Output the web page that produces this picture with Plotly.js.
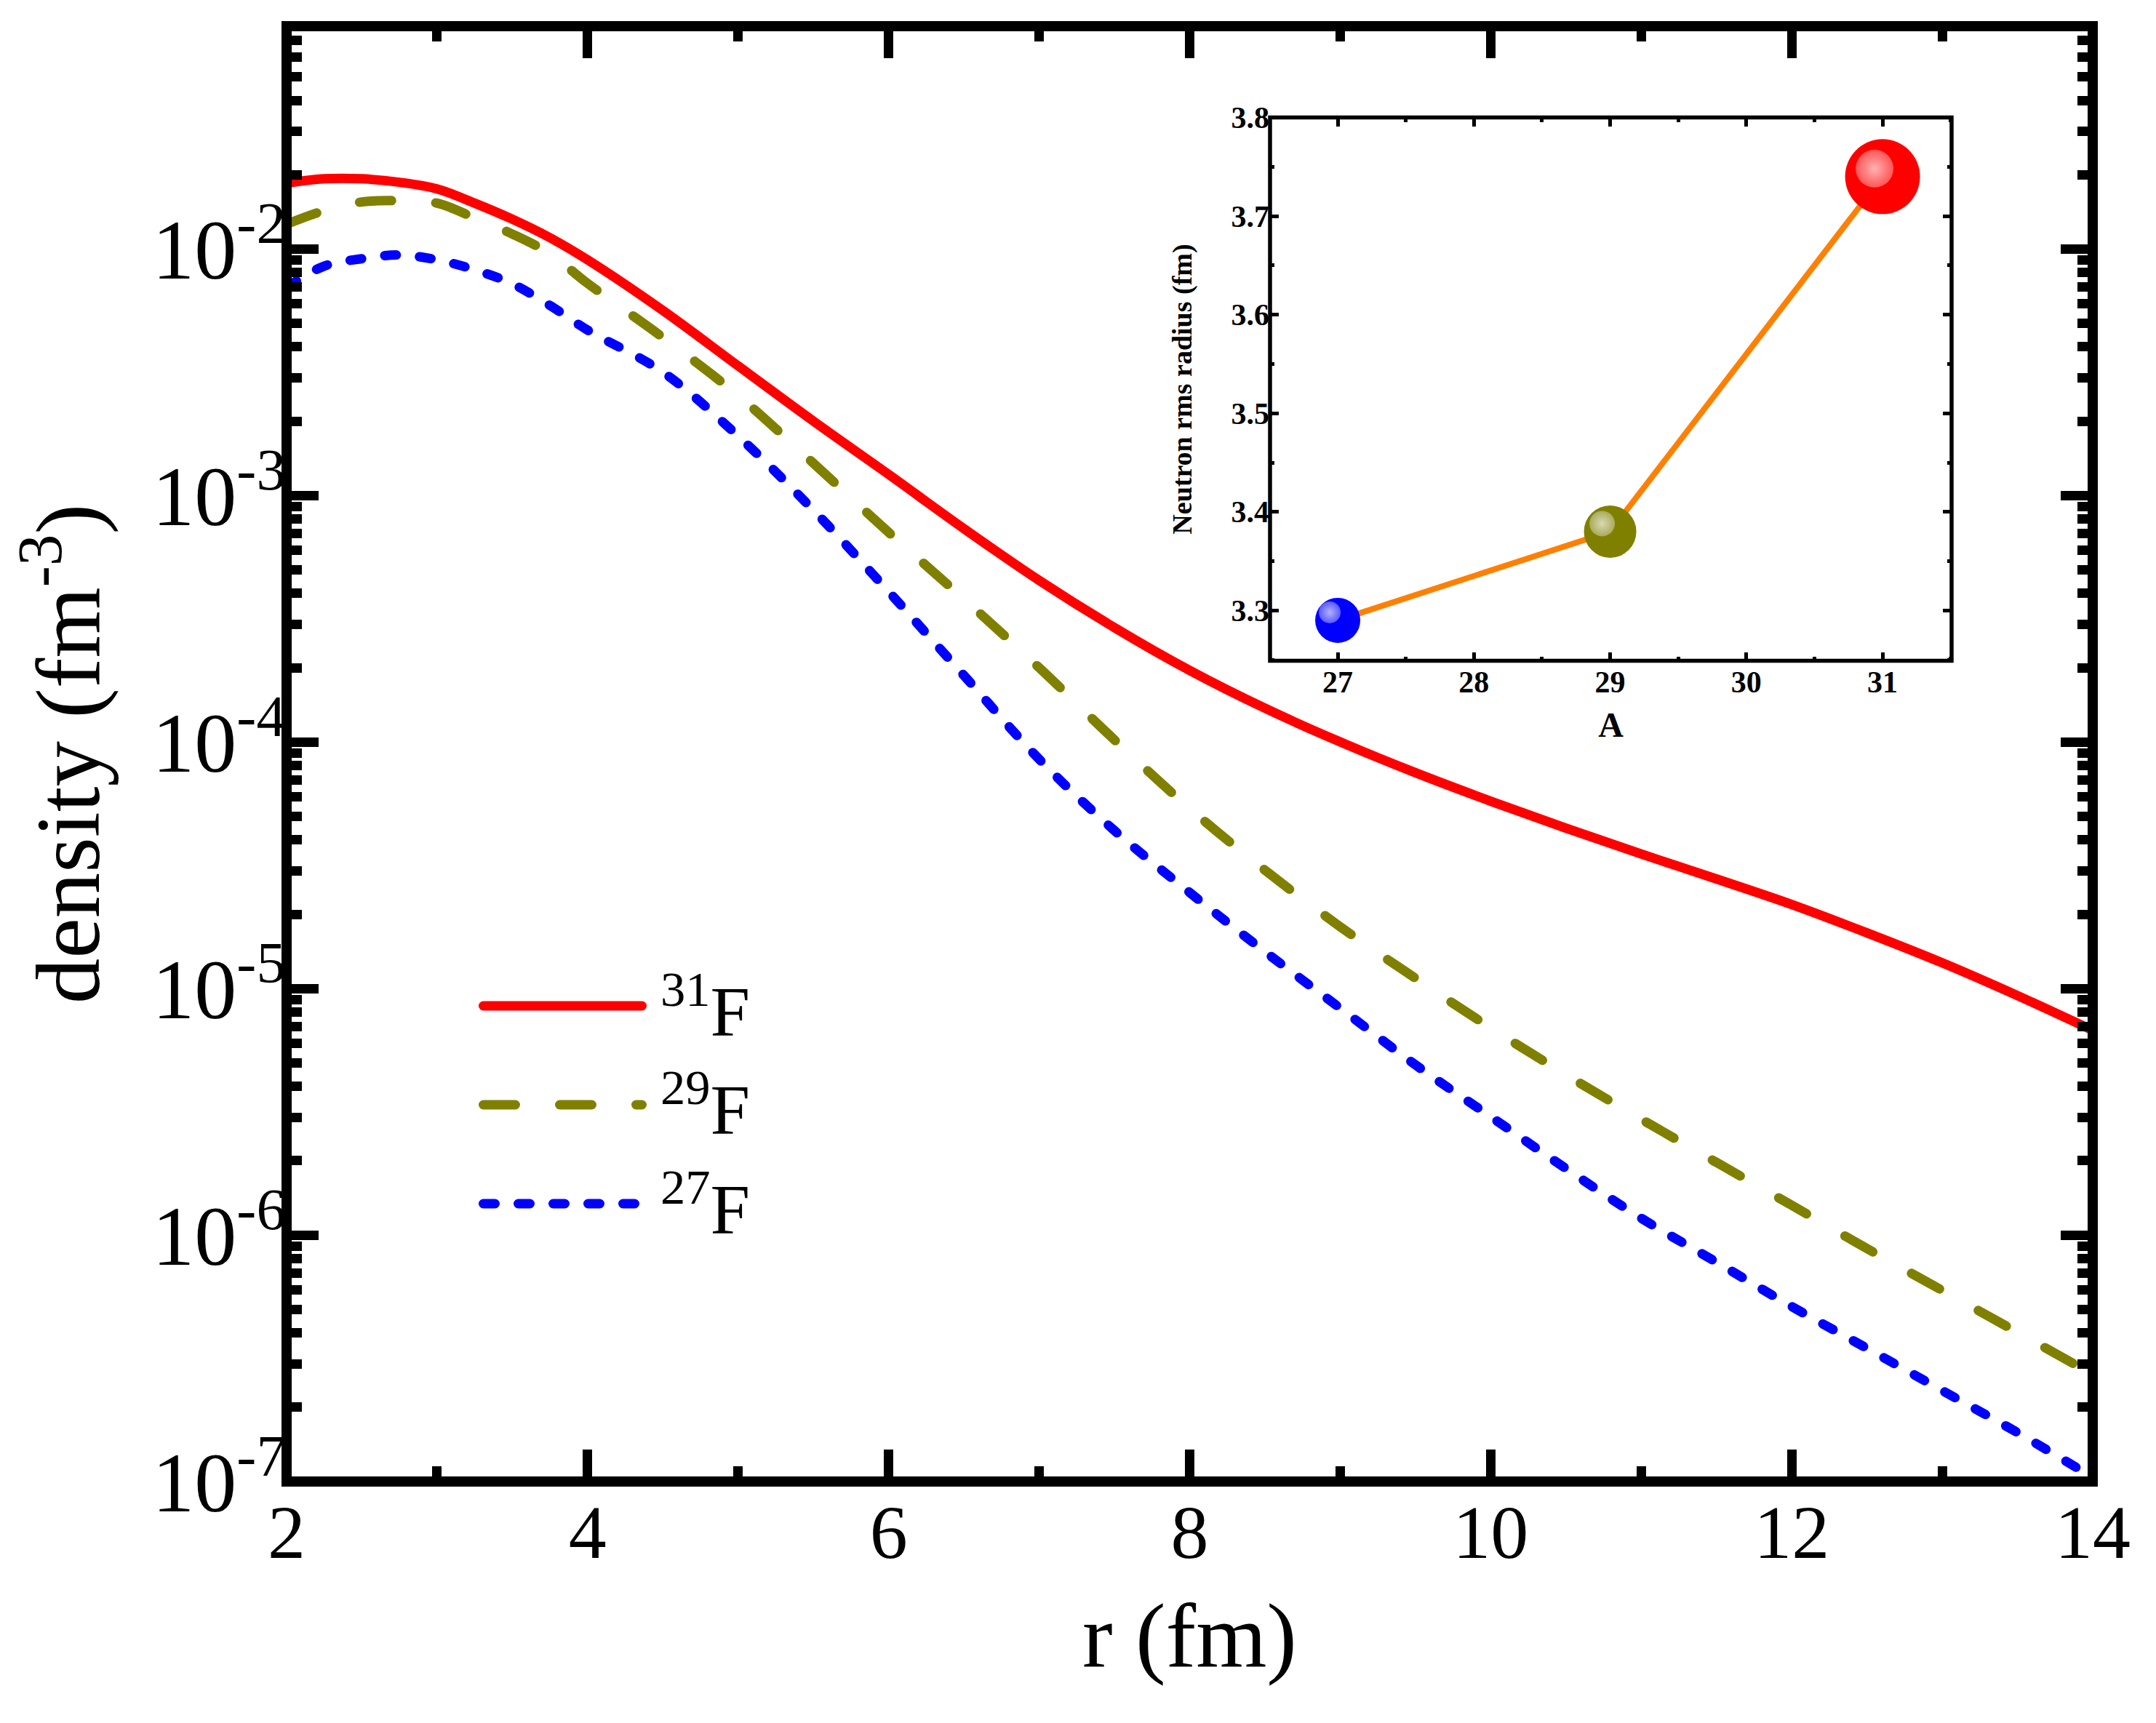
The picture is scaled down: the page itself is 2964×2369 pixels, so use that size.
<!DOCTYPE html>
<html><head><meta charset="utf-8">
<script src="https://cdn.plot.ly/plotly-3.0.1.min.js"></script>
<style>html,body{margin:0;padding:0;background:#fff}#chart{width:2964px;height:2369px}</style>
</head><body><div id="chart"></div>
<script>
// ---- data ----
const r = [2, 2.25, 2.5, 2.75, 3, 3.25, 3.5, 3.75, 4, 4.5, 5, 5.5, 6, 6.5, 7, 7.5, 8, 8.5, 9, 9.5, 10, 10.5, 11, 11.5, 12, 12.5, 13, 13.5, 14];
const density31F = [0.01845, 0.01923, 0.01923, 0.01862, 0.01750, 0.01531, 0.01318, 0.01109, 0.00902, 0.00562, 0.00335, 0.00200, 0.001216, 7.33e-4, 4.52e-4, 2.91e-4, 1.95e-4, 1.37e-4, 1.0e-4, 7.50e-5, 5.75e-5, 4.47e-5, 3.51e-5, 2.78e-5, 2.19e-5, 1.68e-5, 1.27e-5, 9.35e-6, 6.76e-6];
const density29F = [0.01259, 0.01429, 0.01549, 0.01567, 0.01531, 0.01334, 0.01148, 0.00955, 0.00724, 0.00437, 0.00254, 0.00135, 7.08e-4, 3.80e-4, 2.00e-4, 1.02e-4, 5.37e-5, 3.02e-5, 1.78e-5, 1.10e-5, 6.92e-6, 4.47e-6, 2.95e-6, 1.97e-6, 1.32e-6, 8.81e-7, 5.96e-7, 4.03e-7, 2.72e-7];
const density27F = [0.00698, 0.00851, 0.00912, 0.00944, 0.00902, 0.00822, 0.00721, 0.00589, 0.00468, 0.00316, 0.00174, 8.71e-4, 4.07e-4, 1.86e-4, 8.51e-5, 4.37e-5, 2.45e-5, 1.41e-5, 8.32e-6, 4.90e-6, 3.02e-6, 1.86e-6, 1.17e-6, 7.76e-7, 5.13e-7, 3.47e-7, 2.34e-7, 1.58e-7, 1.04e-7];
const seriesNames = ['<sup>31</sup>F', '<sup>29</sup>F', '<sup>27</sup>F'];

const massNumber = [27, 29, 31];
const rmsRadius = [3.29, 3.38, 3.74];

const xTickVals = [2, 4, 6, 8, 10, 12, 14];
const yTickVals = [1e-7, 1e-6, 1e-5, 1e-4, 1e-3, 1e-2];
const yTickText = ['10<sup>-7</sup>', '10<sup>-6</sup>', '10<sup>-5</sup>', '10<sup>-4</sup>', '10<sup>-3</sup>', '10<sup>-2</sup>'];
const insetXTicks = [27, 28, 29, 30, 31];
const insetYTicks = [3.3, 3.4, 3.5, 3.6, 3.7, 3.8];

// ---- styles ----
const SERIF = 'Times New Roman, Liberation Serif, serif';
const colors = ['#FF0000', '#808000', '#0000FF'];
const dashes = ['solid', '44px,61px', '16px,32px'];
const markerColors = ['#0000FF', '#808000', '#FF0000'];
const highlightColors = ['#8080FF', '#BDBD85', '#FF7A7A'];
const markerSizes = [62, 72, 103];
const highlightSizes = [30, 35, 52];

const W = 2964, H = 2369;
const M = {l: 394, r: 87, t: 36, b: 332};
const PW = W - M.l - M.r, PH = H - M.t - M.b;
const px = x => (x - M.l) / PW;
const py = y => (M.t + PH - y) / PH;

const insetDom = {x: [px(1746), px(2683)], y: [py(908.5), py(161.5)]};
const hlShift = {x: -11 / PW, y: 11 / PH};

const mainSeries = [density31F, density29F, density27F];
const traces = mainSeries.map((d, i) => ({
  x: r, y: d, type: 'scatter', mode: 'lines', name: seriesNames[i],
  line: {color: colors[i], width: 13, dash: dashes[i], shape: 'spline', smoothing: 1},
  xaxis: 'x', yaxis: 'y', showlegend: false, hoverinfo: 'skip'
}));
traces.push({
  x: massNumber, y: rmsRadius, type: 'scatter', mode: 'lines',
  line: {color: '#FF8000', width: 8}, xaxis: 'x2', yaxis: 'y2', showlegend: false
});
traces.push({
  x: massNumber, y: rmsRadius, type: 'scatter', mode: 'markers',
  marker: {color: markerColors, size: markerSizes, line: {width: 0}, opacity: 1},
  xaxis: 'x2', yaxis: 'y2', showlegend: false, cliponaxis: false
});
traces.push({
  x: massNumber, y: rmsRadius, type: 'scatter', mode: 'markers',
  marker: {color: highlightColors, size: highlightSizes, line: {width: 0},
           gradient: {type: 'radial', color: '#FFFFFF'}},
  xaxis: 'x3', yaxis: 'y3', showlegend: false, cliponaxis: false
});

const tickFontMainX = {family: SERIF, size: 104, color: '#000'};
const tickFontMainY = {family: SERIF, size: 116, color: '#000'};
const insetTickFont = {family: SERIF, size: 42, color: '#000', weight: 'bold'};

// legend (drawn as layout decoration)
const legendY = [py(1383), py(1519), py(1655)];
const shapes = [
  {type: 'rect', xref: 'paper', yref: 'paper', x0: 0, x1: 1, y0: 0, y1: 1,
   line: {color: '#000', width: 14}, layer: 'above'},
  {type: 'rect', xref: 'x2 domain', yref: 'y2 domain', x0: 0, x1: 1, y0: 0, y1: 1,
   line: {color: '#000', width: 5.5}, layer: 'above'}
];
const annotations = [];
seriesNames.forEach((n, i) => {
  shapes.push({type: 'line', xref: 'paper', yref: 'paper', x0: px(664.5), x1: px(882.5),
    y0: legendY[i], y1: legendY[i], line: {color: colors[i], width: 13, dash: dashes[i]}});
  annotations.push({xref: 'paper', yref: 'paper', x: px(906), y: legendY[i],
    xanchor: 'left', yanchor: 'middle', showarrow: false, text: n,
    font: {family: SERIF, size: 98, color: '#000'}});
});

const layout = {
  width: W, height: H, margin: M,
  paper_bgcolor: '#fff', plot_bgcolor: 'rgba(0,0,0,0)',
  font: {family: SERIF, color: '#000'},
  showlegend: false,
  xaxis: {
    range: [2, 14], tickvals: xTickVals, ticktext: xTickVals.map(String),
    ticks: 'inside', ticklen: 44, tickwidth: 13, tickcolor: '#000', mirror: 'ticks',
    minor: {dtick: 1, tick0: 2, ticks: 'inside', ticklen: 21, tickwidth: 13, tickcolor: '#000'},
    showline: false, showgrid: false, zeroline: false,
    tickfont: tickFontMainX,
    title: {text: 'r (fm)', font: {family: SERIF, size: 125, color: '#000'}, standoff: 40}
  },
  yaxis: {
    type: 'log', range: [-7, -1.097], tickvals: yTickVals, ticktext: yTickText,
    ticks: 'inside', ticklen: 44, tickwidth: 13, tickcolor: '#000', mirror: 'ticks',
    minor: {dtick: 'D1', ticks: 'inside', ticklen: 21, tickwidth: 13, tickcolor: '#000'},
    showline: false, showgrid: false, zeroline: false,
    tickfont: tickFontMainY,
    title: {text: 'density (fm<sup>-3</sup>)', font: {family: SERIF, size: 125, color: '#000'}, standoff: 30}
  },
  xaxis2: {
    domain: insetDom.x, anchor: 'y2', range: [26.503, 31.507],
    tickvals: insetXTicks, ticktext: insetXTicks.map(String),
    ticks: 'inside', ticklen: 12, tickwidth: 5, tickcolor: '#000', mirror: 'ticks',
    minor: {dtick: 0.5, tick0: 27, ticks: 'inside', ticklen: 6, tickwidth: 5, tickcolor: '#000'},
    showline: false, showgrid: false, zeroline: false, tickfont: insetTickFont,
    title: {text: 'A', font: {family: SERIF, size: 48, color: '#000', weight: 'bold'}, standoff: 19}
  },
  yaxis2: {
    domain: insetDom.y, anchor: 'x2', range: [3.249, 3.8],
    tickvals: insetYTicks, ticktext: insetYTicks.map(v => v.toFixed(1)),
    ticks: 'inside', ticklen: 12, tickwidth: 5, tickcolor: '#000', mirror: 'ticks',
    minor: {dtick: 0.05, tick0: 3.3, ticks: 'inside', ticklen: 6, tickwidth: 5, tickcolor: '#000'},
    showline: false, showgrid: false, zeroline: false, tickfont: insetTickFont,
    title: {text: 'Neutron rms radius (fm)', font: {family: SERIF, size: 38, color: '#000', weight: 'bold'}, standoff: 42}
  },
  xaxis3: {domain: [insetDom.x[0] + hlShift.x, insetDom.x[1] + hlShift.x], anchor: 'y3',
    range: [26.503, 31.507], visible: false, fixedrange: true},
  yaxis3: {domain: [insetDom.y[0] + hlShift.y, insetDom.y[1] + hlShift.y], anchor: 'x3',
    range: [3.249, 3.8], visible: false, fixedrange: true},
  shapes: shapes,
  annotations: annotations
};

Plotly.newPlot('chart', traces, layout, {displayModeBar: false, staticPlot: true}).then(gd => {
  gd.querySelectorAll('.scatterlayer .js-line, .shapelayer path').forEach(p => {
    p.style.strokeLinecap = 'round';
  });
});
</script></body></html>
